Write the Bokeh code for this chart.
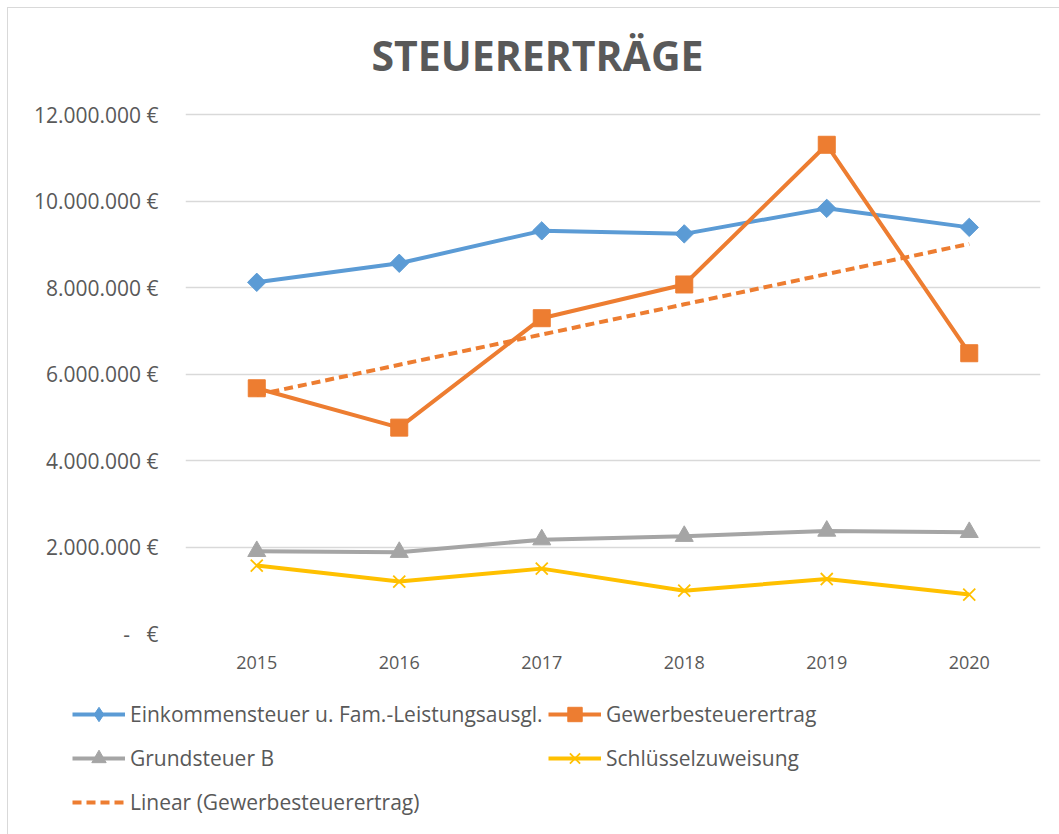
import numpy as np
from bokeh.plotting import figure
from bokeh.layouts import column, row
from bokeh.models import FactorRange, Range1d, FixedTicker, Legend, LegendItem, Label
from bokeh.embed import file_html
from bokeh.resources import INLINE

# ---- data ----
years = ["2015", "2016", "2017", "2018", "2019", "2020"]
einkommensteuer = [8120000, 8560000, 9310000, 9240000, 9830000, 9390000]
gewerbesteuer = [5670000, 4760000, 7290000, 8070000, 11300000, 6480000]
grundsteuer_b = [1900000, 1880000, 2170000, 2250000, 2370000, 2340000]
schluesselzuweisung = [1570000, 1200000, 1500000, 990000, 1260000, 900000]
y_ticks = [0, 2000000, 4000000, 6000000, 8000000, 10000000, 12000000]
y_tick_labels = ["-\u00a0\u00a0\u00a0€", "2.000.000 €", "4.000.000 €", "6.000.000 €",
                 "8.000.000 €", "10.000.000 €", "12.000.000 €"]
title_text = "STEUERERTRÄGE"
series_names = ["Einkommensteuer u. Fam.-Leistungsausgl.", "Gewerbesteuerertrag",
                "Grundsteuer B", "Schlüsselzuweisung", "Linear (Gewerbesteuerertrag)"]

# linear trendline of Gewerbesteuerertrag (least squares, as Excel does)
idx = np.arange(len(years))
slope, intercept = np.polyfit(idx, gewerbesteuer, 1)
trend = list(intercept + slope * idx)

TEXT = "#595959"
FONT = "Open Sans"
BLUE, ORANGE, GRAY, YELLOW = "#5B9BD5", "#ED7D31", "#A5A5A5", "#FFC000"
LW = 4

W = 1051
H_MAIN, H_LEG = 682, 144
PLOT_H = 519          # pixel height of the 0 .. 12 Mio. band
TOP_SPACE = 106       # room above it for the title (inside the frame)
y_max = max(y_ticks)

# ---------------- main chart ----------------
p = figure(width=W, height=H_MAIN, x_range=FactorRange(*years),
           y_range=Range1d(0, y_max * (PLOT_H + TOP_SPACE) / PLOT_H),
           output_backend="svg", toolbar_location=None, tools="",
           min_border_left=177, min_border_right=19, min_border_top=0, min_border_bottom=57)
p.outline_line_color = None
p.background_fill_color = "white"
p.border_fill_color = "white"

p.xgrid.grid_line_color = None
p.ygrid.grid_line_color = "#D9D9D9"
p.ygrid.grid_line_width = 1.5

p.yaxis.ticker = FixedTicker(ticks=y_ticks)
p.yaxis.major_label_overrides = {t: l for t, l in zip(y_ticks, y_tick_labels)}
for ax in (p.xaxis, p.yaxis):
    ax.axis_line_color = None
    ax.major_tick_line_color = None
    ax.minor_tick_line_color = None
    ax.major_tick_in = 0
    ax.major_tick_out = 0
    ax.major_label_text_color = TEXT
    ax.major_label_text_font = FONT
p.yaxis.major_label_text_font_size = "21px"
p.yaxis.major_label_standoff = 27
p.xaxis.major_label_text_font_size = "18px"
p.xaxis.major_label_standoff = 22

p.add_layout(Label(x=352, y=579, x_units="screen", y_units="screen", text=title_text,
                   text_font=FONT, text_font_style="bold", text_font_size="41px",
                   text_color=TEXT, text_align="center", text_baseline="alphabetic"))

p.line(years, trend, line_color=ORANGE, line_width=LW, line_dash="9 5")
p.line(years, einkommensteuer, line_color=BLUE, line_width=LW)
p.scatter(years, einkommensteuer, marker="square", size=13, angle=np.pi / 4,
          fill_color=BLUE, line_color=BLUE)
p.line(years, gewerbesteuer, line_color=ORANGE, line_width=LW)
p.scatter(years, gewerbesteuer, marker="square", size=17, fill_color=ORANGE, line_color=ORANGE)
p.line(years, grundsteuer_b, line_color=GRAY, line_width=LW)
p.scatter(years, grundsteuer_b, marker="triangle", size=18, fill_color=GRAY, line_color=GRAY)
p.line(years, schluesselzuweisung, line_color=YELLOW, line_width=LW)
p.scatter(years, schluesselzuweisung, marker="x", size=17, line_color=YELLOW, line_width=1.8)

# ---------------- legend strip (series kept out of its visible range) ----------------
q = figure(width=W, height=H_LEG, x_range=FactorRange(*years), y_range=Range1d(-2, -1),
           output_backend="svg", toolbar_location=None, tools="",
           x_axis_type=None, y_axis_type=None,
           min_border_left=0, min_border_right=0, min_border_top=0, min_border_bottom=0)
q.outline_line_color = None
q.xgrid.grid_line_color = None
q.ygrid.grid_line_color = None
q.background_fill_color = "white"
q.border_fill_color = "white"

k1 = [q.line(years, einkommensteuer, line_color=BLUE, line_width=LW),
      q.scatter(years, einkommensteuer, marker="diamond", size=14,
                fill_color=BLUE, line_color=BLUE)]
k2 = [q.line(years, gewerbesteuer, line_color=ORANGE, line_width=LW),
      q.scatter(years, gewerbesteuer, marker="square", size=13, fill_color=ORANGE, line_color=ORANGE)]
k3 = [q.line(years, grundsteuer_b, line_color=GRAY, line_width=LW),
      q.scatter(years, grundsteuer_b, marker="triangle", size=13, fill_color=GRAY, line_color=GRAY)]
k4 = [q.line(years, schluesselzuweisung, line_color=YELLOW, line_width=LW),
      q.scatter(years, schluesselzuweisung, marker="x", size=13, line_color=YELLOW, line_width=1.8)]
k5 = [q.line(years, trend, line_color=ORANGE, line_width=LW, line_dash="9 5")]


def make_legend(items, loc):
    return Legend(items=items, location=loc, orientation="vertical",
                  padding=0, margin=0, spacing=8, glyph_width=53, glyph_height=36,
                  label_standoff=5, label_text_font=FONT, label_text_font_size="21px",
                  label_text_color=TEXT, border_line_color=None, background_fill_alpha=0)


q.add_layout(make_legend([LegendItem(label=series_names[0], renderers=k1),
                          LegendItem(label=series_names[2], renderers=k3),
                          LegendItem(label=series_names[4], renderers=k5)], (64, 14)))
q.add_layout(make_legend([LegendItem(label=series_names[1], renderers=k2),
                          LegendItem(label=series_names[3], renderers=k4)], (540, 58)))

layout = column(p, row(q), spacing=0)
layout.styles = {"margin": "7px 0 0 7px",
                 "border-left": "1px solid #D9D9D9", "border-top": "1px solid #D9D9D9"}

open("out.html", "w").write(file_html(layout, INLINE))
